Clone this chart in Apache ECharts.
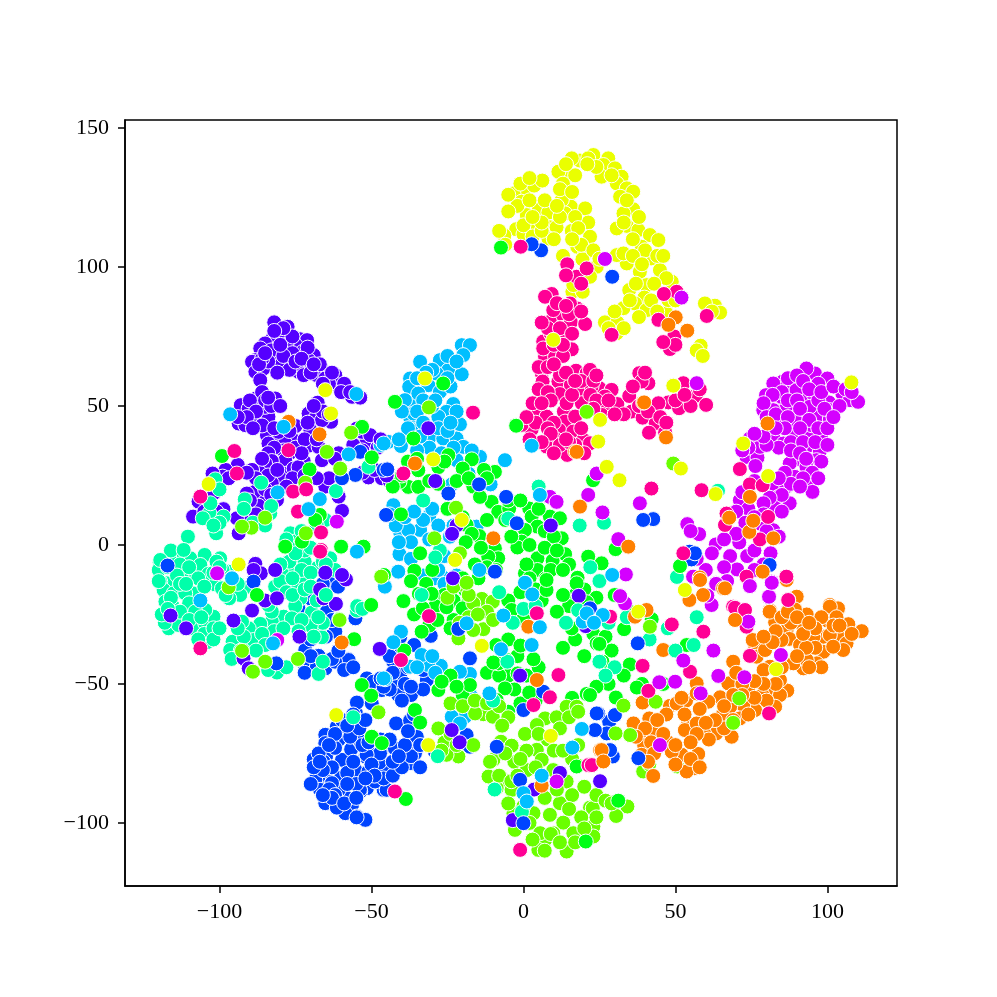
<!DOCTYPE html>
<html>
<head>
<meta charset="utf-8">
<script src="https://cdn.jsdelivr.net/npm/echarts@6/dist/echarts.min.js"></script>
<style>
html,body{margin:0;padding:0;background:#fff}
#chart{width:997px;height:997px}
</style>
</head>
<body>
<div id="chart"></div>
<script>
var xTicks = [-100,-50,0,50,100];
var yTicks = [-100,-50,0,50,100,150];

// the big clusters, one list per class
var violet = [[-82,80.1],[-77.6,78.5],[-80,75.5],[-82.8,74],[-85,72.5],[-86.6,70.7],[-73.4,74],[-71.2,73.7],[-75,71.9],[-80.6,70.7],[-72.6,69.5],[-69,68.3],[-70.7,66.5],[-88.2,66.5],[-89.3,65.9],[-82.8,67.1],[-78.4,65.9],[-80,64.7],[-74.5,64.1],[-74,62.3],[-72.3,61.1],[-88.2,62.3],[-85.5,63.5],[-86.6,59.3],[-66.6,63.5],[-68,61.1],[-61.9,61.1],[-65.2,59.9],[-58.6,56.7],[-61.4,57.5],[-56.4,53.3],[-53.7,53],
[-78,72],[-76,69],[-83,70],[-79,68],[-84,66],[-77,63],[-70,62],[-67,65],[-71,71],[-75,66],[-81,62],[-86,67],[-87,65],[-85,69],[-80,72],[-73,67],[-64,58],[-63,62],[-59,58],[-60,55],[-57,55],[-66,58],[-69,65],[-76,75],[-79,78],[-82,77],
[-88,52.7],[-81.7,52.7],[-86,55],[-93,50.3],[-90.4,49.1],[-87.7,45.5],[-83.9,46.1],[-93.7,43.7],[-91.5,43.1],[-85,49.7],[-84.4,39.5],[-80.6,38.3],[-83.9,36.5],[-76.2,38.3],[-75,42.8],[-78.4,36.5],[-80.6,40.7],
[-90,52],[-85,52],[-83,50],[-88,48],[-91,46],[-86,43],[-89,42],[-84,53],[-80,50],[-94,46],[-82,42],[-77,41],[-79,34],[-82,35],[-75,35],[-84,33],[-77,33],
[-67.7,51.2],[-63.3,44.3],[-70.7,47.3],[-68.5,45.5],[-66.3,44.9],[-70.1,41.3],[-70.8,35.7],[-67.4,35.3],[-66.3,30.5],[-72.3,30.2],[-78.4,30.5],[-82.8,30.2],[-85,29.3],[-86.8,26],[-89.3,27],[-77.8,25.7],[-75.6,27.5],[-80,24],[-82.8,22.2],[-81.1,16.2],[-88.2,19.2],[-85,15.6],[-87.1,14.1],[-91,18.5],[-91,10.4],[-94.3,9.6],[-98.7,12.9],[-104.5,14.4],[-106.9,15.6],[-108.7,10.2],[-101.7,18.8],[-94,28.8],[-98,27],[-99,24.6],[-102.3,25.7],[-93.7,4.2],[-59.7,12.3],[-60.8,17.4],[-65.2,21],[-60.8,33],[-51,24.3],[-46.6,24],[-51.8,36.5],[-53.1,40.7],[-50.4,39.5],[-54.8,41.9],
[-66,48],[-69,50],[-64,47],[-72,38],[-71,44],[-68,38],[-74,28],[-76,24],[-84,25],[-88,24],[-78,21],[-85,20],[-83,18],[-90,16],[-88,11],[-92,13],[-101,12],[-105,12],[-97,24],[-91,26],[-81,27],[-86,31],[-73,33],[-62,31],[-64,24],[-68,24],[-56,36],[-53,34],[-49,27],[-53,26],[-44,23],[-48,35],[-72,25]];
var teal = [[-119.7,-6.2],[-114,-3.8],[-111.8,-3.6],[-109.6,-4.8],[-104.9,-3.6],[-106.3,-7.2],[-99.8,-4.8],[-103.6,-10.4],[-109.6,-11.6],[-112.4,-12],[-117.3,-13.8],[-119.5,-13.2],[-118.4,-16.2],[-115.1,-17.4],[-108.7,-17.4],[-111.3,-17.4],[-115.6,-21.6],[-117.8,-20.4],[-116.7,-30],[-113.5,-28.8],[-108.5,-30],[-104.7,-28.2],[-102,-25.8],[-104.1,-35],[-104.7,-23.4],[-101.4,-14.2],[-97,-9.6],[-91.7,-15.4],[-93.2,-18],[-96.8,-19.2],[-99.2,-15.6],[-76.2,-9.6],[-79.5,-10.2],[-81.7,-15],[-77.8,-14.8],[-74.5,-14.4],[-71.8,-12.4],[-73.4,-19.2],[-75.1,-22],[-69.6,-24.3],[-67.1,-30],[-66.3,-33.2],[-68,-8.4],[-75.6,-4.8],[-78.9,-25.8],[-76.2,-26.4],[-82.8,-27.6],[-86.6,-28.4],[-90.4,-30],[-95.7,-34.8],[-90.6,-34.5],[-96.5,-37.8],[-88.8,-34.2],[-81.1,-45.9],[-67.4,-46.4],[-54.8,-23.6],[-82.8,-24],[-83.9,-21.6],[-92.6,-27.6],
[-116,-2],[-120,-9],[-117,-8],[-113,-7],[-110,-8],[-107,-12],[-114,-11],[-120,-13],[-116,-19],[-113,-14],[-111,-14],[-105,-15],[-102,-10],[-99,-9],[-101,-6],[-96,-12],[-94,-14],[-98,-18],[-110,-21],[-108,-24],[-113,-24],[-118,-28],[-119,-25],[-105,-32],[-102,-30],[-107,-34],[-102,-34],[-100,-8],[-117,-23],[-110,-27],[-106,-26],[-100,-30],
[-72,-6],[-77,-6],[-73,-9],[-70,-10],[-80,-13],[-78,-17],[-76,-18],[-72,-16],[-70,-15],[-80,-7],[-66,-28],[-70,-29],[-73,-27],[-74,-31],[-82,-31],[-86,-32],[-92,-33],[-94,-30],[-85,-36],[-93,-38],[-88,-38],[-79,-30],[-68,-20],[-76,-12],[-96,-41],[-84,-45],[-78,-44],[-69,-33],[-66,-42],
[-101.4,23.6],[-91.7,16.4],[-103.3,11.4],[-105.5,9.6],[-98.7,10.2],[-101.1,4.2],[-110.4,3],[-111.8,-1.8],[-119.5,-5.4],[-61.7,19.4],[-51,28.1],[-76.7,4.2],[-75.4,1.2],[-63.6,-4.8],[-86.3,22.4],[-83.3,11.4],[-65.2,9],
[-72,-2],[-70,-1],[-75,-3],[-66,-6],[-62,-9],[-65,-7],[-78,2],[-73,5],[-68,7],[-100,20],[-103,15],[-100,8],[-102,7],[-92,13],[-89,8],[-85,7],[-83,14]];
var blue = [[-55.1,-60.6],[-54.8,-56.7],[-61.4,-65.4],[-60.3,-69],[-65.2,-68.3],[-69,-77.1],[-64.9,-75.8],[-59.7,-77.3],[-65.8,-78],[-56.7,-73.5],[-53.7,-70.4],[-59.7,-63],[-57,-65.4],[-60.8,-70.1],[-65.2,-71.3],[-67.4,-75],[-55.3,-81],[-52,-76.1],[-48.8,-75.5],[-47.4,-78.5],[-51,-81.5],[-48.8,-85.1],[-51.5,-87.5],[-53.7,-88.7],[-60,-83.7],[-65,-83.7],[-67.4,-83.3],[-68.5,-84.5],[-66.9,-88.1],[-63.6,-87.8],[-65.2,-92.9],[-61.4,-94.5],[-58.1,-91.1],[-56.4,-93.5],[-54.8,-97.7],[-52,-98.9],[-58.6,-96.5],[-60.8,-88.1],[-63,-85.7],[-46,-88.1],[-46.6,-73.7],[-45.5,-81],[-49.9,-57],[-49,-49.2],[-51.5,-48],[-46.6,-52.2],
[-54.9,-98],[-61.4,-94.5],[-63.9,-87.9],[-47.4,-78.3],[-37.3,-78.5],[-35.1,-69],[-35.7,-75],[-42.3,-73.2],[-47.2,-75],[-51.6,-75.5],[-53.8,-70.5],[-41.9,-64.2],[-37.3,-63.2],[-42.8,-42],[-40.6,-33.2],[-40.6,-46.8],[-42.3,-51],[-37,-54],[-41.2,-54],[-49.4,-49.2],[-30.5,-32.7],[-31.8,-48.6],[-48.8,-85.1],[-53.8,-88.1],[-45,-88.1],[-18.7,-68.4],[-17.6,-72.6],[-29.1,-74.4],
[-62,-73],[-57,-69],[-54,-66],[-52,-63],[-63,-80],[-58,-82],[-56,-78],[-53,-72],[-50,-79],[-46,-84],[-43,-83],[-40,-80],[-37,-76],[-34,-72],[-34,-80],[-39,-72],[-43,-78],[-49,-83],[-55,-86],[-58,-86],[-62,-90],[-66,-81],[-69,-80],[-70,-86],[-63,-91],[-59,-93],[-66,-90],[-67,-78],[-62,-68],[-56,-61],[-58,-65],[-64,-72],[-51,-71],[-47,-70],[-38,-67],[-36,-61],[-44,-70],[-41,-76],[-55,-91],[-52,-84],
[-38,-44],[-43,-46],[-39,-50],[-44,-52],[-33,-52],[-40,-56],[-37,-51],[-41,-38],[-46,-51],[-47,-48],[-44,-40],[-36,-36],[-33,-45],
[-60.9,-38.1],[-67.5,-40.2],[-65.3,-44.4],[-57.6,-41.1],[-71.9,-42],[-64.1,-13.4],[-70.1,-19.2],[-67.9,-25.8],[-64.7,-24],[-55.3,-26.4],[-60.8,-38.4],[-57.5,-41.4],[-67.4,-39.9],[-65.2,-44.4],[-71.8,-43.8],[-61.9,-31.2],[-71.8,-37.8],[-69.6,-27.6],
[-63,-27],[-65,-33],[-70,-34],[-74,-41],[-62,-42],[-59,-45],[-63,-41],[-68,-44],[-72,-46],[-70,-40],[-56,-44],[-74,-23],[-66,-14],[-61,-15]];
var cyan = [[-20.3,71.9],[-17.6,71.9],[-19.8,68.3],[-34,65.9],[-27.5,66.5],[-24.7,62.9],[-20.3,61.4],[-31.3,57.5],[-37.3,59.9],[-37.6,56.9],[-27.5,55.1],[-37.3,50.7],[-23.1,50.7],[-25.3,47.9],[-28,46.1],[-37.3,45.9],[-20.9,43.4],[-36.2,41.3],[-30.8,38.9],[-26.4,38.3],[-22,38.3],[-19.8,35.3],[-44.5,37.1],[-40.3,35.6],[-22,30.5],[-14.3,31.7],[-6.1,30.5],[-18.1,25.7],[-36.2,47.3],[-34.6,54.5],[-28.6,61.7],[-39,52.1],[-23.6,21.8],[-10.8,21.8],[-42.8,14.3],[-31,10.5],[-40.6,4.8],[-34,5.4],[-24.2,3],[-40.8,-3.3],[-26.4,-11.7],[-29.1,-12],[-41.2,-9.6],[-37.9,5.4],[-15.4,6.6],[-45.6,-15],[-37.3,-43.8],[-27.2,-43.5],[-31.3,-43.2],[-33.5,-39.6],[-40.3,-31.2],[-17.6,-46.4],[-20.9,-45.6],[-17.4,-54.2],[-19.2,-61.8],[-23.6,-61.8],[-20.9,-64.2],[-45.5,-48.3],
[-25,68],[-22,66],[-24,57],[-30,63],[-32,62],[-35,60],[-33,52],[-30,50],[-35,48],[-33,44],[-28,42],[-25,41],[-31,35],[-34,39],[-23,35],[-25,60],[-29,52],[-22,48],[-24,44],[-38,42],[-40,48],[-41,38],[-35,34],[-27,33],[-20,27],[-17,34],[-47,36],[-42,7],[-37,1],[-39,10],[-31,2],[-28,7],[-33,9],[-41,1],[-37,-5],[-28,-9],[-26,-14],[-22,-11],[-44,11],[-36,12],[-30,13],[-23,7],[-26,-4],[-33,-11],[-35,-44],[-30,-40],[-29,-46]];
var green = [[-36.2,38.3],[-24.7,32.3],[-17,30.8],[-20,27.5],[-9.4,26.3],[-34.6,26.9],[-37.9,20.9],[-40.8,22.7],[-34.6,20.9],[-26.4,58.1],[-10.5,15.5],[-8.3,11.9],[-4.7,13.1],[1.9,13.1],[2.7,10.2],[8.7,10.2],[12,9.6],[4.6,6.6],[0.5,5.4],[-0.6,1.2],[-2,-0.9],[12.6,2.4],[13.7,-3.3],[9.6,-5.7],[4.6,-4.8],[4.6,-9],[7.4,-12],[0.5,-10.2],[-18.7,7.2],[-14.5,3.2],[-9.4,-1.2],[-8.3,-4.8],[-11.6,-4.2],[-40.3,11],[-34,-3],[-35.9,-9.3],[-45.9,-10.8],[-23.1,-12.6],[-14.8,-12],[17.8,-11.8],[25.7,-6.6],[30.3,-1.5],[22.9,23.3],[-16.5,21],[-14.3,17.3],[21.3,-4.2],
[-38,30],[-35,31],[-28,28],[-26,30],[-22,23],[-18,24],[-13,27],[-12,24],[-40,25],[-31,23],[-28,22],[-43,21],[-5,16],[-1,16],[-6,9],[5,13],[7,5],[10,3],[2,0],[-4,3],[7,-1],[11,-2],[15,-7],[1,-7],[9,-9],[2,-12],[13,-9],[-12,-8],[-9,-9],[-14,-1],[-17,4],[-12,9],[-20,10],[-25,13],[-19,1],[-16,-7],[-30,-9],[-37,-13],[-20,-12],[-32,-14],[-26,-18],[-23,-20],[-29,-22],[-23,-27],[-36,-25],[-31,-29],[-24,-30],[-18,-20],[-5,-34],[-2,-40],[-5,-47],[-9,-36],[1,-47],[5,-44],[-12,-46],[-20,-54],[-24,-47],[-8,-47],[-3,-52],[4,-56],[-1,-57],[17,-18],[20,-16],[24,-19],[15,-22],[11,-24],[17,-34],[13,-18],[23,-32],[27,-33],[35,-24],[30,-18],[29,-38],[35,-43],[26,-42],[20,-40],[13,-37],[6,-20],[4,-16],[-5,-20],[-1,-17],[28,-50],[33,-47],[24,-51],[16,-55],[39,-50],[46,-50],[-5,-60],
[-34.4,-17.6],[-39.5,-20.2],[-30.2,-17.6],[-33.1,-22.8],[-28.3,-27],[-25.3,-22.4],[-20,-22.8],[-33.5,-31.2],[-39.2,-38],[-53.2,-50.4],[-50.1,-54.2],[-28,-52.2],[-26.9,-49.2],[-35.7,-59.4],[-34,-63.9],[-49.9,-69],[-46.6,-71.3],[-38.7,-91.4],[-1,-36.2],[3.3,-41.1],[-1.9,-46.2],[-5.5,-41.4],[-8.3,-42.6],[-9.9,-42.3],[-17.6,-50.4],[-22,-51],[1.9,-53.1],[-6.1,-51.6],[-8.8,-55.8],[0,-26.4],[-3.9,-23.4],[7.6,-16.2],[20.8,-20.6],[15.9,-30],[24.1,-35.4],[20.8,-53.6],[-19.2,-16.2],[7.6,-12.6],[17.5,-13.8],[33.1,-30.3],[25,-35.6],[42.2,-26.7],[53.7,-36],[37.3,-51.3],[30.4,-54.9],[21.9,-54]];
var lime = [[-13.7,-19.4],[-19.8,-14.4],[-10.1,-20.4],[-16.5,-21],[-13.2,-30.3],[-16.5,-30.6],[-21.4,-33.6],[-26,-71.1],[-21.4,-76.1],[-25.3,-75.5],[-16.5,-72],[-13.2,-60.9],[-15.9,-60.6],[-10.1,-61.8],[-7.4,-70.8],[-3.9,-72.2],[0.5,-68],[4.4,-73.7],[7.1,-62.4],[10.9,-62],[14.2,-58.2],[17.5,-58.2],[4.4,-64.8],[6,-77.3],[-9.9,-77.3],[-11.5,-83.3],[-6.6,-84.5],[-8.8,-87.5],[1.1,-81],[9.8,-81],[14.2,-85.1],[12,-92.9],[8.7,-97.1],[13.1,-99.9],[-2.8,-102.5],[7.1,-106.1],[4.9,-109.7],[14.2,-110.3],[9.8,-103.7],[16.4,-103.7],[23,-101.3],[21.9,-94.5],[-3.3,-96.5],[-3.9,-88.1],[17.5,-79.1],[23,-104.9],[3.3,-96.5],[5.5,-103.7],[34.2,-94.1],[30.5,-97.5],[22.8,-94.7],[39.4,-81.5],[41.4,-78.9],[50.6,-79.7],
[-12,-24],[-18,-26],[-21,-28],[-15,-25],[-10,-27],[-25,-19],[-23,-15],[-18,-18],[-24,-57],[-20,-58],[-16,-56],[-12,-57],[-8,-58],[-5,-62],[-7,-65],[-3,-78],[1,-74],[4,-80],[8,-70],[12,-66],[15,-62],[18,-60],[5,-88],[0,-94],[7,-91],[11,-88],[16,-90],[20,-87],[24,-90],[27,-92],[15,-95],[19,-98],[9,-104],[12,-107],[3,-106],[7,-110],[17,-107],[2,-100],[-5,-93],[-8,-83],[-11,-78],[-4,-85],[-2,-83],[16,-77],[18,-72],[10,-74],[5,-68],[-24,-68],[-22,-72],[-27,-74],[-6,-75],[-28,-66],[24,-98],[29,-93],[20,-102],[-1,-77],[13,-74]];
var yellow = [[18.6,138.3],[15.9,139.1],[23,140.3],[27.9,139.1],[26.3,136.7],[21.3,139.1],[13.7,133.7],[11.5,134.3],[30.1,135.5],[32.3,132.5],[25.7,132.5],[30.7,130.1],[34,128.3],[36.1,127.1],[31.8,125.3],[36.1,120.8],[32.9,119.3],[34,114.8],[30.7,113.9],[37.8,113.3],[41.6,111.5],[38.9,107.3],[44.4,109.7],[42,103.1],[44.9,98.9],[38.3,98.3],[34,101.3],[30.7,104.3],[32.9,104.9],[40.5,93.5],[48.8,94.7],[39.8,89],[36.7,86.9],[40.5,84.5],[32.9,85.2],[34.8,91.7],[47.1,83.3],[47.7,88.1],[26.8,80.1],[30.9,80],[30.7,76.2],[63,86.1],[59.7,86.9],[64.7,83.6],[58.3,71.7],
[0,127.7],[-3.3,126.5],[3.5,129.3],[6.2,131.1],[-0.6,123.5],[5.1,120.8],[1.1,118.7],[8.2,119.6],[8.7,114.3],[4.4,115.1],[10.9,114.3],[-2.4,113.6],[0,111.8],[-6.3,111.3],[8.2,110.3],[15.1,125.9],[15.6,121.7],[12.6,124.1],[13.7,119.3],[20.3,121.1],[21.3,116],[15.9,113],[21.9,110.9],[17.7,107.3],[20.3,104.9],[19.4,102.8],[24.1,100.1],[21.9,96.5],[16.1,91.1],[19.5,91.1],[16.4,93.5],
[17,133],[14,137],[24,136],[29,133],[21,137],[13,130],[12,128],[34,124],[38,118],[33,116],[36,110],[40,106],[44,104],[36,104],[46,104],[39,101],[47,96],[43,94],[37,94],[42,88],[38,82],[35,88],[44,84],[50,88],[30,84],[28,78],[33,78],[-2,122],[-5,120],[2,124],[0,115],[3,111],[6,113],[7,124],[12,118],[11,122],[17,118],[18,114],[19,108],[23,106],[25,103],[16,127],[62,84],[57,70],[59,68],[-5,126],[-1,130],[2,132],[-6,108],[-8,113],[10,110],[13,104],[16,110],[6,116],[3,118]];
var pink = [[14.4,101],[9.3,90.3],[7.1,89.3],[17.7,85.1],[12,83.3],[15.6,80.1],[20.3,79.5],[8.7,80.3],[13.3,75.9],[6.5,73.2],[15.9,70.4],[7.1,67.8],[10.4,67.8],[6.5,70.7],[17.3,62.7],[20.8,61.8],[6,61.8],[6.3,58.8],[11.5,58.8],[15.6,57.6],[12,54.3],[19.2,55.8],[25,56.4],[19.2,51],[29,55.8],[26.8,50.4],[30.9,50.7],[34.8,53.6],[38.1,61.8],[41.1,58.2],[38.9,58.8],[35.6,48],[39.2,45.8],[43.5,43.8],[41.3,40.4],[46.6,40.5],[47.7,51.3],[44.4,51],[51.2,49.2],[56.7,53.7],[60.1,50.4],[52.6,58.2],[4.7,48.9],[7.6,46.2],[2.7,41.6],[-0.6,43.2],[13.3,48],[13.7,44.4],[11.7,41.4],[16.4,40.8],[10.7,38],[7.6,35.4],[14.4,32.4],[19.7,37.8],[21.9,36.6],[25.7,46.8],[50.4,91.1],[46.2,90.3],[60.3,82.4],[49.6,75],[48.2,70.5],[17.5,96.5],[20.8,99.5],[44.4,81],[29,75.6],[9.8,84.5],[15.3,86.9],[22.4,57],[21.9,63],[14.2,51],[26.8,53.4],[17,46.2],
[5,64],[8,64],[5,56],[8,55],[9,52],[12,61],[14,62],[19,59],[23,59],[16,54],[22,54],[24,52],[28,52],[33,47],[17,59],[23,49],[30,47],[38,50],[41,48],[45,46],[47,44],[50,52],[55,50],[58,56],[53,54],[36,57],[40,62],[9,76],[10,72],[8,78],[12,78],[15,83],[19,84],[11,87],[6,80],[10,44],[4,44],[1,46],[3,51],[6,51],[8,42],[12,36],[17,36],[15,37],[19,42],[14,38],[20,33],[10,33],[9,40],[6,37],[2,38],[13,68],[10,65],[24,61],[14,97],[19,94],[50,72],[46,73],[14,86],[16,76],[13,72]];
var magenta = [[95.9,61.7],[93.1,63.5],[100,59.9],[85.2,58.7],[82.2,58.1],[88.7,56.9],[79.8,53.9],[92.4,53.9],[89.8,55.7],[104.9,54.5],[107.4,52.1],[110.1,51.5],[100.5,51.3],[89.3,49.1],[92.4,47.3],[97.2,46.7],[100.8,45.3],[84.7,44.6],[78.9,48.5],[89.3,39.8],[94.2,40.7],[98,38.3],[82.2,38.9],[85.5,36.5],[74.5,38.3],[76.7,36.5],[94.2,35.9],[97.5,33.8],[90.6,30.9],[87.6,29.3],[96.4,30.5],[73.4,31.7],[77,31.4],[76.3,28.4],[89.3,24.5],[94.8,22.7],[95.1,19.1],[83,21.2],[83.8,17.3],[87.6,15],[82.7,13.5],[71.2,16.1],[86.5,21],[95.3,54.5],[86.5,49.7],[94.2,49.7],[97,52.1],[89.8,44.3],[94.8,43.1],[90.9,35.3],[93.1,28.1],[77.8,35.3],[82.2,48.5],[84.9,53.3],[100.8,48.5],[53.9,7.5],[57.8,3.9],[63.3,0.2],[71,0.9],[73.6,-4],[81.3,-3],[70.3,-8.8],[63.3,-13.8],[60.5,-18.3],[81.6,-13.2],[80.7,-18.9],[74.5,-14.7],[55.8,-11.4],[77.8,7.7],[82.2,5.3],[61.9,-21.6],
[87,60],[90,61],[92,59],[97,58],[94,56],[98,55],[102,57],[85,55],[82,54],[79,51],[80,46],[83,47],[87,52],[90,52],[99,49],[104,50],[106,56],[108,55],[91,49],[94,45],[87,46],[86,42],[83,42],[91,42],[97,42],[100,42],[88,37],[92,37],[96,37],[100,36],[84,35],[80,36],[79,39],[88,34],[91,33],[93,31],[98,30],[95,26],[92,24],[97,24],[86,26],[88,22],[91,21],[85,18],[84,24],[81,17],[79,15],[76,23],[72,19],[74,13],[79,11],[76,10],[85,12],[70,12],[80,5],[73,8],[70,4],[66,2],[62,-3],[68,-4],[76,-2],[79,-7],[76,-9],[66,-8],[67,-13],[60,-9],[57,-5],[55,5],[84,3],[102,46],[76,40],[74,35],[72,34]];
var orange = [[103.6,-23],[100.8,-21.6],[100,-27.2],[106.9,-28.5],[111.3,-31],[103.6,-33],[106.3,-35.4],[98.7,-38.4],[96.5,-42.6],[92.1,-44.4],[88.8,-42.6],[98.7,-33],[100.8,-32.4],[105.2,-37.8],[89.3,-22.8],[93.2,-25],[82.8,-27.8],[81.1,-23.6],[92.1,-29.7],[86.6,-30.6],[87.5,-33.8],[91,-36],[84.9,-34.2],[76.2,-36.2],[76.7,-40.2],[79.5,-37.8],[75.4,-34.2],[69,-42],[81.1,-43.8],[67.4,-49.8],[74,-51.6],[81.7,-51.6],[86.8,-52.4],[84.4,-48.6],[78.6,-54],[84.4,-54],[64.7,-54.8],[76.2,-59.4],[72.3,-57.6],[82.8,-58.2],[68,-58.2],[65.4,-61.4],[71.2,-62.4],[68.5,-69],[63.4,-67.8],[59.5,-68],[54.2,-64.2],[53.1,-66.6],[57,-64.2],[57.5,-75.2],[56.2,-80.3],[52.1,-75.5],[53.7,-81.5],[47.3,-70.8],[48.8,-74.4],[53.5,-56],[48.2,-57.9],[50.4,-57],[39.2,-56.7],[41.4,-62.4],[43.1,-67.5],[38.9,-67.5],[39.7,-72],[38.9,-75.5],[36.2,-64.2],[42.7,-83.1],[46,-37.8],[93.2,-41.4],[95.4,-33],[101.9,-36.6],[89.9,-18.6],[86.6,-12.6],[57,-49.8],[60.8,-56.4],[57,-53.4],[103.5,-22.8],[100.8,-22.2],[89.3,-23.2],[81,-24],
[103,-26],[98,-26],[96,-30],[102,-29],[108,-32],[104,-29],[96,-37],[93,-37],[98,-44],[94,-44],[90,-40],[92,-32],[88,-28],[85,-26],[87,-24],[83,-31],[82,-35],[79,-33],[90,-26],[94,-28],[79,-45],[85,-44],[83,-50],[79,-50],[76,-49],[72,-50],[70,-46],[80,-56],[76,-55],[72,-54],[69,-54],[66,-58],[74,-61],[69,-63],[66,-66],[63,-63],[60,-64],[61,-70],[57,-68],[55,-71],[50,-72],[46,-68],[53,-61],[58,-59],[52,-55],[47,-61],[44,-63],[40,-66],[37,-69],[42,-71],[43,-75],[41,-78],[55,-77],[58,-80],[50,-79]];

// points of a class sitting inside somebody else's cluster, drawn on top
var violetStray = [[-88.2,-6.8],[-86.4,-10.2],[-88.8,-9],[-116.1,-25.4],[-95.4,-27.2],[-89.3,-23.6],[-85,-20],[-81.1,-19.2],[-65.8,-19.2],[-61.7,-21.2],[-58.4,-12.4],[-59.7,-10.8],[-65.2,-10],[-73.7,-33],[-92.1,-40.8],[-90.4,-44.4],[-111,-30],[-47.3,-37.4],[-81.7,-9],[-66.9,-16],[-44.8,27.2],[-29,23],[-22,7],[-23.5,4],[-47,38],[-31.3,42],[-23.2,-12],[-21,-71],[9,7],[-45,25],[-23.6,-66.6],[-1.1,-47],[18.2,-18.3],[25.2,-85],[20.5,-29.2],[3.5,-88],[-3.5,-99],[12,-82]];
var tealStray = [[-27.5,-2],[-29,-4.5],[-33,16],[-5,9.5],[5,21],[18.5,7],[26.5,8],[22,-8],[25,-13],[-33.5,-18],[-54.7,-22],[-67.5,-26],[-65,-18],[-56,-62],[-53,-23],[-28.2,-76],[-5.3,-42],[-8,-17],[0,-23],[4,-22],[-3.5,-28],[18,-23.5],[14,-28],[25,-42],[28,-28],[34,-26],[41.5,-34],[47.5,-30],[57,-26],[50,-38],[56,-36],[30,-44],[27,-47],[-10,-56],[-0.5,-96],[-9.5,-88],[64,19.5],[50.5,-11.5]];
var blueStray = [[-117.1,-7.4],[-88.8,-13.2],[-53.7,33.5],[-55.3,25.2],[-59.7,24],[-46,27],[-44.8,27.2],[-5.7,17.3],[-14.6,21.8],[-24.7,18.5],[-45.2,10.8],[-9.4,-9.6],[-2.2,7.8],[55.3,-5.2],[54.7,-2.4],[56.4,-3],[42.7,9.3],[39.4,9],[81,-7.2],[5.8,106],[2.7,108.2],[29.2,96.5],[37.6,-35.4],[29.4,-76.1],[28.5,-73.8],[28.2,-63.6],[24.6,-60.6],[30.1,-61.2],[27.4,-67.8],[23.5,-66.6],[37.8,-76.7],[-17.6,-40.8],[-21.4,-30.2],[-8.8,-72.6],[0,-100.1],[-1.1,-84.5],[6.5,-52.8],[0,-59.4],[21.9,-22.8],[24.1,-60.6],[-60.9,-38.1],[-81.3,-42.6]];
var cyanStray = [[-42.8,-35],[-96.5,47],[-55,54.3],[-78.9,42.5],[-57.5,32.6],[-80.9,18.9],[-67,16.5],[-70.7,12.9],[-46,36.5],[-54.8,-2.4],[-106.3,-20],[-95.9,-12],[-82.4,-35.4],[-46,-48],[5.4,18],[2.7,35.7],[29.2,-10.8],[0.7,-13.6],[-14.5,-9],[-18.7,-28.2],[-11.2,-53.4],[-7.4,-37.5],[2.7,-36],[0.5,-13.6],[2.9,-17.8],[-6.6,-25.4],[5.4,-29.6],[19.2,-66.2],[16.1,-72.9],[6,-83],[0,-89.3],[1.1,-92.3],[19.5,-27.6],[23,-27.6],[20.8,-24.6],[26.1,-25.2],[23.2,-28]];
var greenStray = [[-42.3,51.5],[-2.5,43.1],[-99.2,32],[-53.1,42.5],[-49.9,31.5],[-70.4,27.2],[-67,10.8],[-60,-0.6],[-52.6,-0.6],[-78.4,-0.6],[-72.9,1.2],[-68.5,9],[-7.4,107],[-2.4,42.9],[51.5,-7.6],[-87.7,-18],[-50.1,-21.6],[-60.6,-26.7],[-55.7,-33.9],[17.5,-79.7],[20.5,-106.7],[31.2,-92]];
var limeStray = [[-31.1,49.5],[-22.2,13.4],[-29.3,2.4],[-20.9,-3],[-18.7,-13.6],[20.8,47.9],[-97,-15.2],[-60.5,-27],[-74.2,-41],[-85,-42],[-89,-45.6],[-92.6,-38.1],[-47.7,-60.2],[-46.8,-11.4],[-85,9.8],[-89.5,6.2],[-92.6,6.6],[-64.7,33.5],[-60.3,27.5],[-71.8,22.4],[-71.6,4.2],[-56.7,40.4],[49.3,29.3],[69,-64],[71,-55.2],[41.6,-29.4],[43.5,-56.4],[32.9,-57.8],[35.1,-68.4],[30.3,-67.8]];
var yellowStray = [[9.8,73.8],[24.6,37.2],[25.2,45],[-32.4,59.9],[-29.7,30.8],[31.6,23.3],[27.4,28.1],[-20.3,9],[-22.5,-5.4],[-63.3,47.3],[-65.2,55.7],[-103.6,21.9],[-93.7,-7],[-61.6,-61.2],[-31.3,-72],[-13.7,-36.3],[9,-68.7],[80.5,24.8],[63.2,18.3],[49.3,57.5],[51.8,27.5],[107.9,58.5],[72.3,36.5],[53.1,-16.2],[83.1,-44.7],[37.8,-24],[49.3,57.3]];
var pinkStray = [[-16.6,47.6],[-39.5,25.7],[-95.1,33.8],[-75.8,19.2],[-71.5,20],[-66.6,4.5],[-66.6,-1.8],[-74.2,12],[-94.3,25.7],[-106.3,17.4],[-77.3,34.1],[-106.3,-37.2],[-66.9,-2.4],[-31.1,-25.6],[-40.3,-41.4],[-42.3,-88.7],[11.5,-46.8],[8.7,-54.8],[3.3,-57.6],[-1.1,-109.7],[21.4,-79.2],[4.4,-24.6],[-0.9,107.3],[42.1,20.3],[71.2,27.3],[74.5,21.8],[78.7,21.5],[58.6,19.7],[66.3,7.2],[80.5,10.1],[77.8,2],[52.6,-3],[73.4,-11.4],[86.5,-11.4],[87.1,-19.6],[69,-22.2],[72.3,-23.4],[66.8,11.3],[48.8,-28.6],[59.2,-31.2],[69.6,-22.6],[72.9,-23.4],[87.1,-19.8],[54.8,-45.6],[41.1,-52.5],[39.2,-43.5],[73.4,-29.4],[74.5,-39.9],[80.8,-60.6],[22.5,-79.2],[28.5,-25.8]];
var magentaStray = [[33.4,-21],[31.8,-18.4],[60.5,-18.2],[63.4,-14],[74.5,-14.8],[80.8,-18.6],[81.7,-13.6],[74,-27.6],[62.5,-38],[52.6,-41.6],[84.7,-39.6],[72.7,-47.6],[64.1,-47.1],[58.3,-53.4],[44.7,-49.4],[49.9,-49.2],[44.9,-72],[8.7,17.3],[24.1,25.7],[10.9,15.5],[26,11.7],[31.2,2.1],[33.7,-10.6],[21.3,18],[38.3,15],[26.8,102.9],[52,89],[57,58.2],[-61.4,8.4],[-81,-34.2],[-100.8,-10.2],[10.9,-85.1]];
var orangeStray = [[82.2,2.4],[74.3,4.7],[75.6,8.7],[67.7,9.8],[74.5,17.3],[80.3,43.7],[78.7,-9.6],[58,-11.7],[65.7,-15.6],[59.1,-18],[54.5,-19.6],[39.4,51.2],[46.9,38.7],[-59.8,-35.1],[4.4,-48.6],[6,-86.6],[1.6,-29.4],[25.2,-73.8],[39.7,51.3],[50.1,81.9],[47.7,79.2],[53.9,77.1],[17,33.6],[17.5,33.5],[-67.1,39.8],[-77.3,44.3],[-35.7,29.3],[-9.9,2.4],[34.5,-0.6],[18.6,13.8],[25.7,-73.8],[26.3,-77.9],[36.7,-25.8],[40.5,-23.4],[54.6,-19.8],[66.3,-15.6],[69.6,-27],[58.1,-12.6]];

var colorViolet = '#5500ff', colorTeal = '#00ffaa', colorBlue = '#0044ff', colorCyan = '#00bfff', colorGreen = '#00ff15',
	colorLime = '#6aff00', colorYellow = '#eaff00', colorPink = '#ff0095', colorMagenta = '#d400ff', colorOrange = '#ff8000';

var layers = [
	[blue,colorBlue],[violet,colorViolet],[teal,colorTeal],[cyan,colorCyan],[green,colorGreen],[lime,colorLime],
	[yellow,colorYellow],[pink,colorPink],[magenta,colorMagenta],[orange,colorOrange],
	[violetStray,colorViolet],[tealStray,colorTeal],[blueStray,colorBlue],[greenStray,colorGreen],[limeStray,colorLime],
	[pinkStray,colorPink],[magentaStray,colorMagenta],[orangeStray,colorOrange],[yellowStray,colorYellow],[cyanStray,colorCyan]
];

function fmt(v){
	return String(v).replace('-','\u2212');
}

var axisBase = {
	type:'value',
	splitLine:{show:false},
	axisLine:{onZero:false,lineStyle:{color:'#000',width:1.5}},
	axisTick:{length:7,lineStyle:{color:'#000',width:1.5}},
	axisLabel:{color:'#000',fontFamily:'"Liberation Serif"',fontSize:22,formatter:fmt}
};

var myChart = echarts.init(document.getElementById('chart'),null,{renderer:'canvas'});
myChart.setOption({
	animation:false,
	backgroundColor:'#fff',
	grid:{left:125,top:120,width:772,height:766,show:true,borderColor:'#000',borderWidth:1.5,backgroundColor:'transparent'},
	xAxis:echarts.util.merge({
		min:-131.1,max:122.9,
		axisTick:{customValues:xTicks},
		axisLabel:{customValues:xTicks,margin:15}
	},axisBase),
	yAxis:echarts.util.merge({
		min:-122.7,max:152.9,
		axisTick:{customValues:yTicks},
		axisLabel:{customValues:yTicks,margin:16}
	},axisBase),
	series:layers.map(function(l){
		return {
			type:'scatter',
			data:l[0],
			symbolSize:15,
			itemStyle:{color:l[1],borderColor:'#fff',borderWidth:1,opacity:1},
			silent:true
		};
	})
});
</script>
</body>
</html>
